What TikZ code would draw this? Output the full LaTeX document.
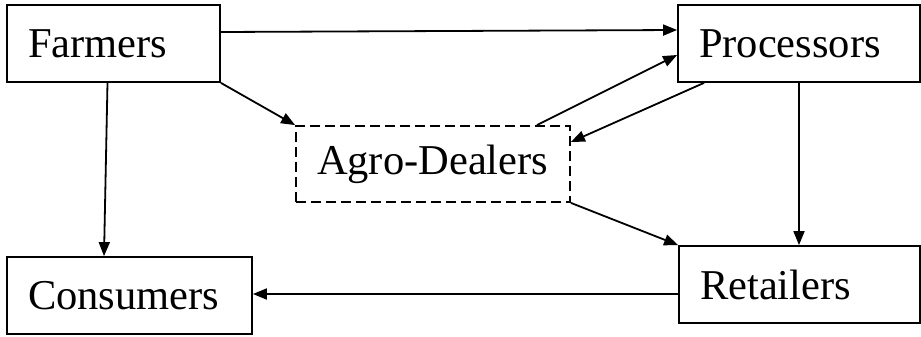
\documentclass[tikz,border=0pt]{standalone}
\usepackage{fontspec}
\setmainfont{Liberation Serif}
\usetikzlibrary{arrows.meta}
\begin{document}
\begin{tikzpicture}[x=1pt,y=-1pt,
  box/.style={draw,line width=1.8pt,minimum height=77pt,inner xsep=21pt,inner ysep=0pt,align=left,
    font=\fontsize{42.5}{48}\selectfont},
  conn/.style={line width=1.8pt,-{Triangle[length=14pt,width=11pt]}}]
\useasboundingbox (0,0) rectangle (921,337);
\node[box,text width=171pt] (far) at (113.5,43.5) {Farmers};
\node[box,text width=200pt] (proc) at (799,43.5) {Processors};
\node[box,text width=199pt] (ret) at (799.5,284.5) {Retailers};
\node[box,text width=203pt] (con) at (129.5,295.5) {Consumers};
\node[box,text width=232pt,minimum height=76pt,dash pattern=on 10pt off 5pt] (agro) at (433,164) {Agro-Dealers};
\draw[conn] ([yshift=11.5pt]far.east) -- ([yshift=13.5pt]proc.west);
\draw[conn] (far.south east) -- (agro.north west);
\draw[conn] ([xshift=-6pt]far.south) -- ([xshift=-25.5pt]con.north);
\draw[conn] ([xshift=104pt]agro.north) -- ([yshift=-11.5pt]proc.west);
\draw[conn] ([xshift=-95pt]proc.south) -- ([yshift=22pt]agro.east);
\draw[conn] (agro.south east) -- (ret.north west);
\draw[conn] (proc.south) -- (proc.south |- ret.north);
\draw[conn] ([yshift=-9.5pt]ret.west) -- ([yshift=-9.5pt]ret.west -| con.east);
\end{tikzpicture}
\end{document}
